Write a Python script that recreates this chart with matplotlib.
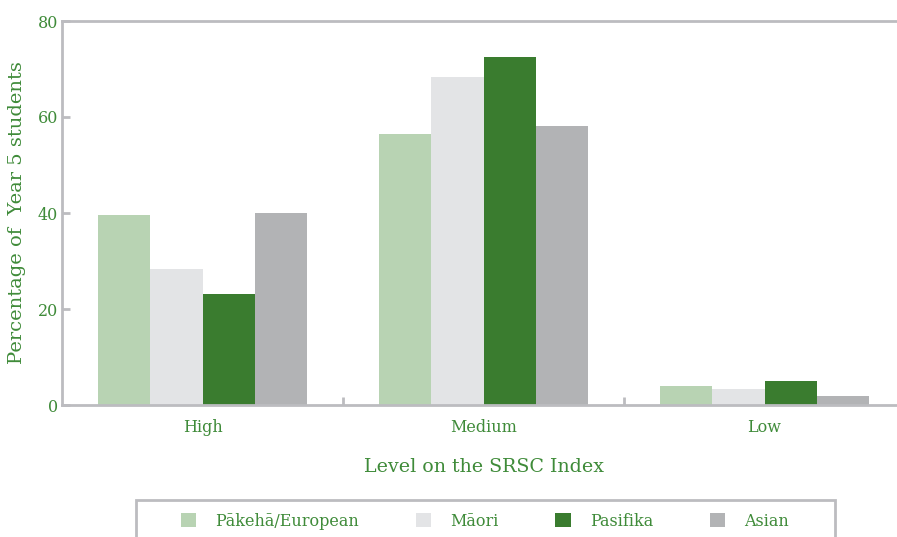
import matplotlib
matplotlib.use("Agg")
import matplotlib.pyplot as plt
import numpy as np
from matplotlib.patches import Rectangle

# SRSC index levels and percentage of Year 5 students per ethnic group
levels = ["High", "Medium", "Low"]
groups = ["Pākehā/European", "Māori", "Pasifika", "Asian"]
pakeha = [39.6, 56.4, 4.0]
maori = [28.3, 68.3, 3.4]
pasifika = [23.1, 72.4, 4.9]
asian = [40.0, 58.2, 1.9]

colors = ["#b8d3b3", "#e3e4e6", "#3a7c2f", "#b2b3b5"]
text_green = "#3f8b39"
frame_gray = "#bcbcc0"

plt.rcParams["font.family"] = ["DejaVu Serif"]

fig = plt.figure(figsize=(8.97, 5.37), dpi=100)
ax = fig.add_axes([62 / 897, 132 / 537, 843 / 897, 384 / 537])

x = np.arange(len(levels))
width = 0.186
series = [pakeha, maori, pasifika, asian]
handles = []
for i, (vals, col, name) in enumerate(zip(series, colors, groups)):
    b = ax.bar(x + (i - 1.5) * width, vals, width, color=col, label=name, zorder=2)
    handles.append(b)

ax.set_xlim(-0.5, 2.5)
ax.set_ylim(0, 80)
ax.set_yticks([0, 20, 40, 60, 80])
ax.set_xticks(x)
ax.set_xticklabels(levels)
ax.set_xticks([0.5, 1.5], minor=True)

for s in ["left", "bottom", "top"]:
    ax.spines[s].set_color(frame_gray)
    ax.spines[s].set_linewidth(2)
ax.spines["right"].set_visible(False)

ax.tick_params(axis="y", direction="in", length=6, width=2, color=frame_gray,
               labelcolor=text_green, labelsize=11.5, pad=3)
ax.tick_params(axis="x", which="major", length=0, labelcolor=text_green,
               labelsize=11.5, pad=10)
ax.tick_params(axis="x", which="minor", direction="in", length=6, width=2,
               color=frame_gray)

ax.set_ylabel("Percentage of  Year 5 students", color=text_green, fontsize=14, labelpad=8)
ax.set_xlabel("Level on the SRSC Index", color=text_green, fontsize=13.7, labelpad=16)

# legend frame drawn separately (it runs off the bottom of the image)
fig.patches.append(Rectangle((136 / 897, -0.05), 699 / 897, (37 / 537) + 0.05,
                             transform=fig.transFigure, fill=False,
                             edgecolor=frame_gray, linewidth=2))
leg = fig.legend(handles=handles, loc="center", bbox_to_anchor=(485 / 897, 16 / 537),
                 ncol=4, frameon=False, fontsize=11.5, handlelength=0.95,
                 handleheight=0.95, handletextpad=1.2, columnspacing=3.55)
for t in leg.get_texts():
    t.set_color(text_green)

fig.savefig("out.png", dpi=100)
